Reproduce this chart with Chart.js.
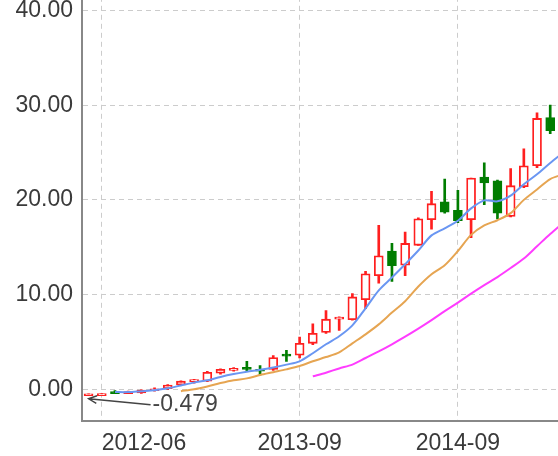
<!DOCTYPE html>
<html>
<head>
<meta charset="utf-8">
<script src="https://cdn.jsdelivr.net/npm/chart.js@4/dist/chart.umd.min.js"></script>
<style>
  html, body { margin: 0; padding: 0; background: #fff; overflow: hidden; width: 558px; height: 456px; }
  /* the reference is a crop of a larger chart, so the canvas runs past the window top and right */
  #wrap { position: absolute; left: 0; top: -107.5px; width: 590px; height: 563.5px; }
</style>
</head>
<body>
<div id="wrap"><canvas id="kChart"></canvas></div>
<script>
// monthly candles
const months = [
  "2012-05", "2012-06", "2012-07", "2012-08", "2012-09", "2012-10", "2012-11", "2012-12",
  "2013-01", "2013-02", "2013-03", "2013-04", "2013-05", "2013-06", "2013-07", "2013-08",
  "2013-09", "2013-10", "2013-11", "2013-12", "2014-01", "2014-02", "2014-03", "2014-04",
  "2014-05", "2014-06", "2014-07", "2014-08", "2014-09", "2014-10", "2014-11", "2014-12",
  "2015-01", "2015-02", "2015-03", "2015-04", "2015-05",
];
const openPrices = [
  -0.479, -0.46, -0.25, -0.4, -0.4, -0.15, 0.0, 0.45, 0.8, 0.85, 1.7, 2.0, 2.3, 2.1, 2.1, 3.65,
  3.6, 4.85, 6.0, 7.4, 7.35, 9.45, 12.0, 14.6, 13.1, 15.2, 17.9, 19.8, 18.9, 17.9, 22.4, 22.0,
  18.25, 21.4, 23.6, 28.7, 27.2,
];
const closePrices = [
  -0.479, -0.46, -0.35, -0.25, -0.1, 0.05, 0.45, 0.85, 0.9, 1.8, 2.1, 2.1, 2.1, 1.9, 3.35, 3.5,
  4.85, 5.9, 7.4, 7.55, 9.75, 12.2, 14.1, 13.05, 15.4, 18.0, 19.6, 18.7, 17.8, 22.3, 21.8, 18.6,
  21.5, 23.6, 28.6, 27.3, 24.3,
];
const lowPrices = [
  -0.479, -0.46, -0.4, -0.45, -0.45, -0.2, -0.05, 0.4, 0.65, 0.8, 1.6, 1.9, 1.9, 1.5, 2.0, 2.95,
  3.3, 4.7, 5.9, 6.2, 7.3, 8.5, 11.2, 11.4, 12.0, 15.2, 16.9, 18.6, 17.6, 16.0, 19.5, 18.0,
  18.2, 21.3, 23.4, 27.0, 23.8,
];
const highPrices = [
  -0.479, -0.46, -0.15, -0.2, -0.05, 0.15, 0.5, 0.9, 1.05, 1.9, 2.15, 2.3, 2.95, 2.5, 3.55, 4.1,
  5.5, 6.9, 8.3, 7.65, 10.1, 12.45, 17.3, 15.4, 16.6, 18.1, 20.9, 22.2, 21.0, 22.3, 23.9, 22.1,
  23.3, 25.4, 29.2, 30.0, 27.5,
];

// moving average lines
const maShort = [
  null, null, -0.3, -0.3, -0.2, -0.1, 0.1, 0.4, 0.7, 0.95, 1.3, 1.6, 1.85, 2.05, 2.3, 2.6,
  2.95, 3.8, 4.75, 5.6, 6.75, 8.55, 10.45, 11.8, 13.2, 14.65, 16.25, 17.0, 17.8, 19.1, 19.95, 19.85,
  20.45, 21.65, 22.7, 23.9, 25.0,
];
const maMid = [
  null, null, null, null, null, null, null, -0.2, 0.0, 0.3, 0.65, 0.95, 1.15, 1.5, 1.8, 2.1,
  2.45, 2.95, 3.4, 3.9, 4.85, 5.8, 6.85, 8.1, 9.3, 10.85, 12.15, 13.1, 14.6, 16.3, 17.3, 17.85,
  18.6, 20.0, 21.1, 22.2, 22.7,
];
const maLong = [
  null, null, null, null, null, null, null, null, null, null, null, null, null, null, null, null,
  null, 1.37, 1.75, 2.2, 2.6, 3.3, 4.0, 4.75, 5.55, 6.4, 7.3, 8.25, 9.15, 10.1, 11.0, 11.85,
  12.8, 13.8, 15.1, 16.4, 17.6,
];

const tickMonths = ["2012-06", "2013-09", "2014-09"];
const yTicksMin = -3.3;
const yTicksMax = 50;

const upColor = "#ff1f1f";
const downColor = "#007d00";
const textColor = "#3a3a3a";
const font = { family: "'Liberation Sans', Arial, sans-serif", size: 23 };

const rising = openPrices.map((o, i) => closePrices[i] >= o);

// arrow + label at the lowest price
const minMarker = {
  id: "minMarker",
  afterDatasetsDraw(chart) {
    const { ctx, scales: { x, y } } = chart;
    const minVal = Math.min(...lowPrices);
    const idx = lowPrices.indexOf(minVal);
    const px = x.getPixelForValue(idx);
    const py = y.getPixelForValue(minVal);
    const tip = { x: px, y: py + 5 };
    const tail = { x: px + 62, y: py + 11 };
    const ang = Math.atan2(tail.y - tip.y, tail.x - tip.x);
    ctx.save();
    ctx.strokeStyle = "#444";
    ctx.lineWidth = 1.5;
    ctx.beginPath();
    ctx.moveTo(tail.x, tail.y);
    ctx.lineTo(tip.x, tip.y);
    ctx.moveTo(tip.x + 9 * Math.cos(ang - 0.45), tip.y + 9 * Math.sin(ang - 0.45));
    ctx.lineTo(tip.x, tip.y);
    ctx.lineTo(tip.x + 9 * Math.cos(ang + 0.45), tip.y + 9 * Math.sin(ang + 0.45));
    ctx.stroke();
    ctx.fillStyle = "#444";
    ctx.font = font.size + "px " + font.family;
    ctx.textAlign = "left";
    ctx.textBaseline = "middle";
    ctx.fillText(minVal.toFixed(3), tail.x + 2, tail.y);
    ctx.restore();
  },
};

new Chart(document.getElementById("kChart"), {
  data: {
    labels: months,
    datasets: [
      {
        type: "line",
        data: maShort,
        borderColor: "#6a96f2",
        borderWidth: 2,
        pointRadius: 0,
        tension: 0.3,
        order: 1,
      },
      {
        type: "line",
        data: maMid,
        borderColor: "#e6a552",
        borderWidth: 2,
        pointRadius: 0,
        tension: 0.3,
        order: 1,
      },
      {
        type: "line",
        data: maLong,
        borderColor: "#ff3cff",
        borderWidth: 2,
        pointRadius: 0,
        tension: 0.3,
        order: 1,
      },
      {
        // candle bodies
        type: "bar",
        data: openPrices.map((o, i) => [o, closePrices[i]]),
        backgroundColor: rising.map((r) => (r ? "#ffffff" : downColor)),
        borderColor: rising.map((r) => (r ? upColor : downColor)),
        borderWidth: 1.8,
        borderSkipped: false,
        barThickness: 9,
        minBarLength: 2,
        grouped: false,
        order: 2,
      },
      {
        // wicks
        type: "bar",
        data: lowPrices.map((l, i) => [l, highPrices[i]]),
        backgroundColor: rising.map((r) => (r ? upColor : downColor)),
        borderWidth: 0,
        barThickness: 2,
        minBarLength: 1,
        grouped: false,
        order: 3,
      },
    ],
  },
  options: {
    responsive: true,
    maintainAspectRatio: false,
    animation: false,
    layout: { padding: { top: 15, right: 20, bottom: 0, left: 0 } },
    plugins: {
      legend: { display: false },
      tooltip: { enabled: false },
    },
    scales: {
      x: {
        type: "category",
        offset: true,
        afterBuildTicks: (scale) => {
          const last = months.length - 1;
          scale.ticks = scale.ticks.filter(
            (t) => tickMonths.includes(months[t.value]) || t.value === last
          );
        },
        afterFit: (scale) => {
          scale.height = 36;
        },
        grid: { offset: false, color: "#cccccc", lineWidth: 1, drawTicks: false },
        border: { color: "#888888", width: 2, dash: [5, 4] },
        ticks: {
          autoSkip: false,
          maxRotation: 0,
          minRotation: 0,
          align: "inner",
          padding: 9,
          color: textColor,
          font: font,
          callback: (val) => (tickMonths.includes(months[val]) ? months[val] : ""),
        },
      },
      y: {
        min: yTicksMin,
        max: yTicksMax,
        afterFit: (scale) => {
          scale.width = 82;
        },
        grid: { color: "#cccccc", lineWidth: 1, drawTicks: false },
        border: { color: "#888888", width: 2, dash: [5, 4] },
        ticks: {
          stepSize: 10,
          includeBounds: false,
          padding: 9,
          color: textColor,
          font: font,
          callback: (v) => v.toFixed(2),
        },
      },
    },
  },
  plugins: [minMarker],
});
</script>
</body>
</html>
